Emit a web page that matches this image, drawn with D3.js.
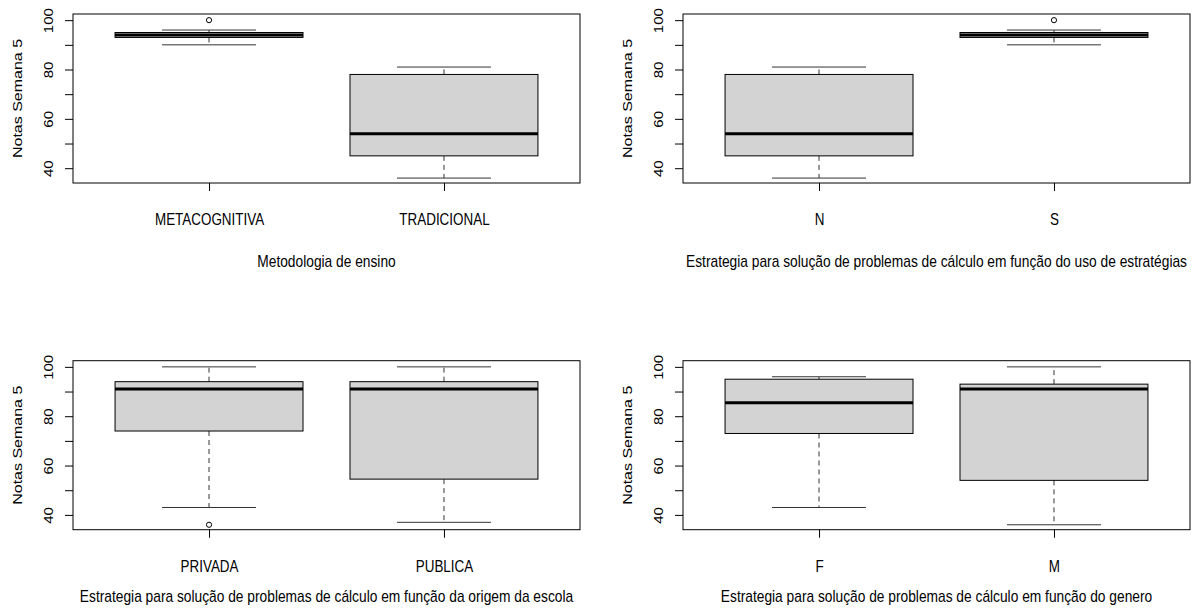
<!DOCTYPE html>
<html>
<head>
<meta charset="UTF-8">
<title>Boxplots Notas Semana 5</title>
<script src="https://d3js.org/d3.v7.min.js"></script>
<style>
  body { margin: 0; background: #fff; }
  svg text { font-family: "Liberation Sans", Arial, sans-serif; fill: #000; }
</style>
</head>
<body>
<div id="chart"></div>
<script>
// data: [lower whisker, q1, median, q3, upper whisker]
const catsMetodologia = ["METACOGNITIVA", "TRADICIONAL"];
const statsMetodologia = [[90, 93, 94, 95, 96], [36, 45, 54, 78, 81]];
const outMetodologia = [[100], []];

const catsEstrategia = ["N", "S"];
const statsEstrategia = [[36, 45, 54, 78, 81], [90, 93, 94, 95, 96]];
const outEstrategia = [[], [100]];

const catsOrigem = ["PRIVADA", "PUBLICA"];
const statsOrigem = [[43, 74, 91, 94, 100], [37, 54.5, 91, 94, 100]];
const outOrigem = [[36], []];

const catsGenero = ["F", "M"];
const statsGenero = [[43, 73, 85.5, 95, 96], [36, 54, 91, 93, 100]];
const outGenero = [[], []];

const xLabels = [
  "Metodologia de ensino",
  "Estrategia para solução de problemas de cálculo em função do uso de estratégias",
  "Estrategia para solução de problemas de cálculo em função da origem da escola",
  "Estrategia para solução de problemas de cálculo em função do genero"
];
const yLabel = "Notas Semana 5";
const yTicks = [40, 50, 60, 70, 80, 90, 100];

const panels = [
  {cats: catsMetodologia, stats: statsMetodologia, outs: outMetodologia, xlab: xLabels[0]},
  {cats: catsEstrategia, stats: statsEstrategia, outs: outEstrategia, xlab: xLabels[1]},
  {cats: catsOrigem, stats: statsOrigem, outs: outOrigem, xlab: xLabels[2]},
  {cats: catsGenero, stats: statsGenero, outs: outGenero, xlab: xLabels[3]}
];

// layout
const W = 1195, H = 612;
const pw = 507, ph = 169;
const lefts = [73, 683], tops = [14, 360.7];
const squeeze = 0.84; // the text in the picture is narrowed horizontally

const svg = d3.select("#chart").append("svg")
  .attr("width", W).attr("height", H);
svg.append("rect").attr("width", W).attr("height", H).attr("fill", "#fff");

panels.forEach((p, k) => {
  const left = lefts[k % 2];
  const top = tops[Math.floor(k / 2)];
  const g = svg.append("g").attr("transform", `translate(${left},${top})`);

  const x = d3.scaleLinear().domain([0.421, 2.579]).range([0, pw]);
  const y = d3.scaleLinear().domain([34, 102.5]).range([ph, 0]);
  const bw = x(1.4) - x(1);

  // boxes
  p.stats.forEach((s, i) => {
    const cx = x(i + 1);
    const [lo, q1, med, q3, hi] = s;
    // whiskers (dashed)
    g.append("line").attr("x1", cx).attr("x2", cx)
      .attr("y1", y(q3)).attr("y2", y(hi))
      .attr("stroke", "#333").attr("stroke-dasharray", "5,4");
    g.append("line").attr("x1", cx).attr("x2", cx)
      .attr("y1", y(q1)).attr("y2", y(lo))
      .attr("stroke", "#333").attr("stroke-dasharray", "5,4");
    // staples
    [lo, hi].forEach(v => {
      g.append("line").attr("x1", cx - bw / 2).attr("x2", cx + bw / 2)
        .attr("y1", y(v)).attr("y2", y(v))
        .attr("stroke", "#333");
    });
    g.append("rect")
      .attr("x", cx - bw).attr("width", 2 * bw)
      .attr("y", y(q3)).attr("height", y(q1) - y(q3))
      .attr("fill", "#d3d3d3").attr("stroke", "#000");
    g.append("line").attr("x1", cx - bw).attr("x2", cx + bw)
      .attr("y1", y(med)).attr("y2", y(med))
      .attr("stroke", "#000").attr("stroke-width", 3);
    // outliers
    g.selectAll(null).data(p.outs[i]).join("circle")
      .attr("cx", cx).attr("cy", d => y(d)).attr("r", 2.6)
      .attr("fill", "none").attr("stroke", "#000");
  });

  // frame
  g.append("rect").attr("width", pw).attr("height", ph)
    .attr("fill", "none").attr("stroke", "#000");

  // y axis
  const ya = g.append("g")
    .call(d3.axisLeft(y).tickValues(yTicks).tickSize(8)
      .tickFormat(d => d % 20 === 0 ? d : ""));
  ya.select(".domain").remove();
  ya.selectAll("line").attr("stroke", "#000");
  ya.selectAll("text")
    .attr("x", null).attr("dy", null)
    .attr("fill", "#000").attr("font-size", 15)
    .attr("font-family", "Liberation Sans, Arial, sans-serif")
    .attr("text-anchor", "middle")
    .attr("transform", `translate(-20,0) scale(${squeeze},1) rotate(-90)`);

  // x axis
  const xa = g.append("g").attr("transform", `translate(0,${ph})`)
    .call(d3.axisBottom(x).tickValues(p.cats.map((c, i) => i + 1)).tickSize(8)
      .tickFormat(d => p.cats[d - 1]));
  xa.select(".domain").remove();
  xa.selectAll("line").attr("stroke", "#000");
  xa.selectAll("text")
    .attr("y", null).attr("dy", null)
    .attr("fill", "#000").attr("font-size", 16)
    .attr("font-family", "Liberation Sans, Arial, sans-serif")
    .attr("transform", `translate(0,42) scale(${squeeze},1)`);

  // axis titles
  g.append("text")
    .attr("font-size", 16).attr("text-anchor", "middle")
    .attr("transform", `translate(-51,${ph / 2}) scale(${squeeze},1) rotate(-90)`)
    .text(yLabel);
  g.append("text")
    .attr("font-size", 16.4).attr("text-anchor", "middle")
    .attr("transform", `translate(${pw / 2},${ph + (k < 2 ? 84 : 72)}) scale(${squeeze},1)`)
    .text(p.xlab);
});
</script>
</body>
</html>
